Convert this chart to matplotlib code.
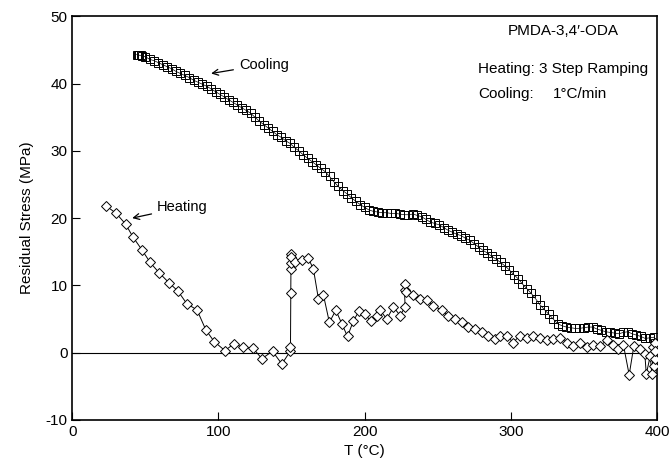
import matplotlib.pyplot as plt

plt.rcParams['font.family'] = ['Liberation Sans', 'DejaVu Sans']
plt.rcParams['axes.unicode_minus'] = False

# heating run (3 step ramping)
heat_T = [23.2, 30.1, 36.5, 41.5, 47.6, 53.3, 59.3, 66.1, 72.3, 78.4, 85.3, 91.4, 97.1,
          104.4, 110.6, 116.7, 123.5, 129.7, 137.0, 143.4, 149.1, 149.3, 149.5, 149.6,
          149.7, 149.8, 149.9, 152.5, 157.0, 161.6, 165.0, 168.4, 171.8, 175.9, 180.3,
          184.4, 188.3, 192.3, 196.2, 200.3, 204.2, 208.3, 210.6, 215.2, 219.7, 224.3,
          227.7, 227.3, 227.4, 228.0, 233.3, 238.0, 242.5, 247.0, 252.7, 257.3, 261.9,
          266.4, 271.0, 275.6, 280.0, 284.6, 289.2, 292.5, 297.2, 301.7, 306.0, 310.8,
          315.3, 319.8, 324.6, 329.0, 333.6, 338.2, 342.8, 347.3, 351.8, 356.4, 361.0,
          365.5, 370.0, 373.6, 377.0, 381.0, 384.2, 388.2, 391.7, 392.7, 395.4, 396.5,
          397.5, 398.2, 398.5, 398.6, 398.7]
heat_S = [21.8, 20.7, 19.1, 17.2, 15.3, 13.4, 11.9, 10.4, 9.15, 7.26, 6.36, 3.37, 1.64,
          0.3, 1.3, 0.8, 0.7, -0.9, 0.2, -1.7, 0.2, 0.9, 8.9, 12.5, 13.3, 14.7, 14.2,
          13.5, 13.7, 14.0, 12.4, 8.0, 8.6, 4.5, 6.3, 4.3, 2.4, 4.7, 6.2, 5.7, 4.7, 5.4,
          6.3, 5.0, 6.8, 5.5, 6.8, 9.25, 10.2, 9.0, 8.5, 8.0, 7.8, 7.0, 6.3, 5.5, 5.0,
          4.5, 3.8, 3.5, 3.0, 2.5, 2.0, 2.5, 2.5, 1.5, 2.5, 2.2, 2.5, 2.2, 1.8, 2.0, 2.2,
          1.5, 1.0, 1.5, 0.8, 1.2, 1.0, 1.8, 1.2, 0.5, 1.2, -3.3, 1.0, 0.5, -0.2, -3.2,
          -0.5, -3.2, 0.8, -2.0, 1.5, -1.0, 0.3]

# cooling run (1 C/min)
cool_T = [44, 45, 46, 47, 48, 50, 53, 56, 59, 62, 65, 68, 71, 74, 77, 80, 83, 86, 89, 92,
          95, 98, 101, 104, 107, 110, 113, 116, 119, 122, 125, 128, 131, 134, 137, 140,
          143, 146, 149, 152, 155, 158, 161, 164, 167, 170, 173, 176, 179, 182, 185, 188,
          191, 194, 197, 200, 203, 206, 209, 212, 215, 218, 221, 224, 227, 230, 233, 236,
          239, 242, 245, 248, 251, 254, 257, 260, 263, 266, 269, 272, 275, 278, 281, 284,
          287, 290, 293, 296, 299, 302, 305, 308, 311, 314, 317, 320, 323, 326, 329, 332,
          335, 338, 341, 344, 347, 350, 353, 356, 359, 362, 365, 368, 371, 374, 377, 380,
          383, 386, 389, 392, 395, 398, 398.8, 398.9, 399.0, 399.0, 399.1]
cool_S = [44.3, 44.3, 44.2, 44.2, 44.1, 44.0, 43.6, 43.4, 43.1, 42.8, 42.5, 42.2, 41.8,
          41.5, 41.2, 40.9, 40.5, 40.2, 39.9, 39.6, 39.2, 38.8, 38.4, 38.0, 37.6, 37.2,
          36.8, 36.4, 36.0, 35.6, 35.0, 34.4, 33.9, 33.4, 32.9, 32.4, 32.0, 31.5, 31.1,
          30.5, 30.0, 29.4, 28.9, 28.4, 27.9, 27.4, 26.9, 26.2, 25.4, 24.7, 24.1, 23.6,
          23.0, 22.5, 22.0, 21.6, 21.2, 21.0, 20.9, 20.8, 20.8, 20.7, 20.7, 20.6, 20.5,
          20.5, 20.6, 20.4, 20.2, 19.8, 19.4, 19.2, 19.0, 18.6, 18.2, 17.9, 17.6, 17.4,
          17.0, 16.7, 16.2, 15.7, 15.2, 14.8, 14.3, 13.9, 13.4, 12.9, 12.3, 11.6, 11.0,
          10.2, 9.5, 8.8, 8.0, 7.1, 6.4, 5.7, 5.0, 4.3, 4.0, 3.8, 3.7, 3.6, 3.6, 3.7, 3.8,
          3.8, 3.5, 3.3, 3.1, 3.0, 2.9, 2.8, 3.0, 3.1, 2.8, 2.6, 2.4, 2.1, 2.2, 2.3, 1.5,
          0.5, -0.3, 1.0, 0.0]

fig = plt.figure(figsize=(6.69, 4.66), dpi=100)
ax = fig.add_axes([0.108, 0.099, 0.874, 0.866])

ax.axhline(0, color='black', lw=0.8, zorder=1)

ax.plot(cool_T, cool_S, color='black', lw=0.5, marker='s', ms=6.2, mfc='none',
        mec='black', mew=0.7, zorder=2)
ax.plot(heat_T, heat_S, color='black', lw=0.7, marker='D', ms=4.6, mfc='white',
        mec='black', mew=0.7, zorder=3)

ax.set_xlim(0, 400)
ax.set_ylim(-10, 50)
ax.set_xticks([0, 100, 200, 300, 400])
ax.set_yticks([-10, 0, 10, 20, 30, 40, 50])
ax.tick_params(direction='in', length=6, width=0.8, labelsize=11, top=False, right=False)
for s in ax.spines.values():
    s.set_linewidth(1.2)

ax.set_xlabel('T (°C)', fontsize=11, labelpad=4)
ax.set_ylabel('Residual Stress (MPa)', fontsize=11, labelpad=8)

## annotation block, upper right
ax.text(336, 47.8, "PMDA-3,4\u2032-ODA", ha='center', va='center', fontsize=11)
ax.text(277.5, 42.1, 'Heating: 3 Step Ramping', ha='left', va='center', fontsize=11)
ax.text(277.5, 38.4, 'Cooling:', ha='left', va='center', fontsize=11)
ax.text(329, 38.4, '1°C/min', ha='left', va='center', fontsize=11)

ax.annotate('Cooling', xy=(95, 41.5), xytext=(114, 42.8), fontsize=10.5,
            ha='left', va='center',
            arrowprops=dict(arrowstyle='->', color='black', lw=0.9, shrinkA=2, shrinkB=0))
ax.annotate('Heating', xy=(41, 20.0), xytext=(58, 21.6), fontsize=10.5,
            ha='left', va='center',
            arrowprops=dict(arrowstyle='->', color='black', lw=0.9, shrinkA=2, shrinkB=0))

fig.savefig('out.png', dpi=100)
